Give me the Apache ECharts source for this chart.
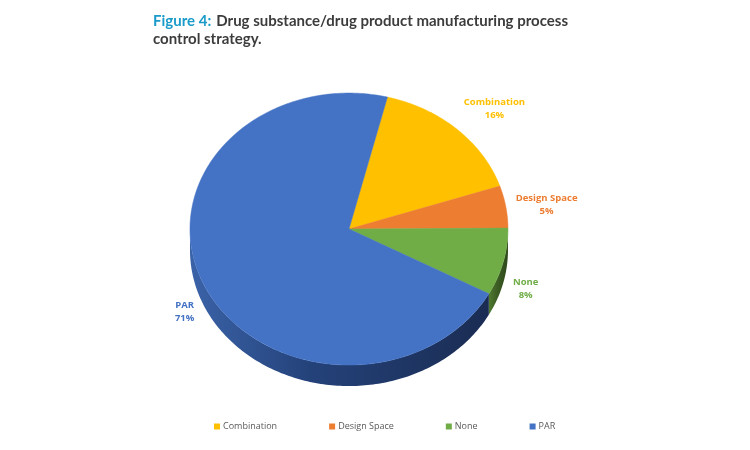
<!DOCTYPE html>
<html>
<head>
<meta charset="utf-8">
<script src="https://cdn.jsdelivr.net/npm/echarts@6/dist/echarts.min.js"></script>
<style>
html,body{margin:0;padding:0;background:#fff;}
#chart{width:750px;height:450px;}
</style>
</head>
<body>
<div id="chart"></div>
<script>
// ---- data ----
const categories = ['Combination', 'Design Space', 'None', 'PAR'];
const values = [16, 5, 8, 71];
// ---- palette ----
const topColors = ['#FFC000', '#ED7D31', '#70AD47', '#4472C4'];
const sideColors = [
  ['#b08600', '#8a6900', '#6e5400'],
  ['#b05a22', '#8e4618', '#6e3612'],
  ['#4f7a30', '#3d5f24', '#2e481b'],
  ['#3b63a8', '#24427a', '#1a2c52']
];

const chart = echarts.init(document.getElementById('chart'));

const LABEL_FONT = 'bold 9.5px "Open Sans"';
const measureCtx = document.createElement('canvas').getContext('2d');
function textWidth(s) { measureCtx.font = LABEL_FONT; return measureCtx.measureText(s).width; }

const START_DEG = 14;     // first slice starts clockwise from 12 o'clock
function geom(api) {
  const w = api.getWidth(), h = api.getHeight();
  return { cx: w * 0.4653, cy: h * 0.509, rx: 159, ry: 136, depth: 21 };
}
function pt(g, deg, dy) {
  const r = deg * Math.PI / 180;
  return [g.cx + g.rx * Math.sin(r), g.cy - g.ry * Math.cos(r) + (dy || 0)];
}

function makeRender(i) {
  return function (params, api) {
    const g = geom(api);
    const total = values.reduce((a, b) => a + b, 0);
    let acc = 0;
    for (let j = 0; j < i; j++) acc += values[j];
    const v = api.value(0);
    const a0 = START_DEG + acc / total * 360;
    const a1 = a0 + v / total * 360;
    const children = [];

    // side wall (only the front half of the rim is visible)
    [0, 360].forEach(function (k) {
      const s = Math.max(a0, 90 + k), e = Math.min(a1, 270 + k);
      if (e - s > 0.01) {
        const pts = [];
        const n = Math.max(2, Math.ceil(e - s));
        for (let t = 0; t <= n; t++) pts.push(pt(g, s + (e - s) * t / n, 0));
        for (let t = n; t >= 0; t--) pts.push(pt(g, s + (e - s) * t / n, g.depth));
        children.push({
          type: 'polygon',
          shape: { points: pts },
          style: {
            fill: new echarts.graphic.LinearGradient(0, 0, 1, 0, [
              { offset: 0, color: sideColors[i][0] },
              { offset: 0.4, color: sideColors[i][1] },
              { offset: 1, color: sideColors[i][2] }
            ])
          },
          z2: 1
        });
      }
    });

    // top face
    const top = [[g.cx, g.cy]];
    const n = Math.max(2, Math.ceil(a1 - a0));
    for (let t = 0; t <= n; t++) top.push(pt(g, a0 + (a1 - a0) * t / n, 0));
    children.push({
      type: 'polygon',
      shape: { points: top },
      style: { fill: topColors[i], stroke: topColors[i], lineWidth: 0.5 },
      z2: 2
    });

    // label (lines centred on each other, box placed just outside the rim)
    const mid = (a0 + a1) / 2;
    const mr = mid * Math.PI / 180;
    const sn = Math.sin(mr), cs = Math.cos(mr);
    const lines = [categories[i], Math.round(v / total * 100) + '%'];
    const wBox = Math.max(textWidth(lines[0]), textWidth(lines[1]));
    const p = pt(g, mid, cs < 0 ? g.depth : 0);
    let lx = p[0] + 10 * sn, ly = p[1] - 10 * cs;
    lx += (sn >= 0 ? 1 : -1) * wBox / 2;
    let va;
    if (Math.abs(cs) < 0.45) { va = 'middle'; if (cs < 0) ly += 3; }
    else va = cs > 0 ? 'bottom' : 'top';
    children.push({
      type: 'text',
      style: {
        x: lx, y: ly,
        text: lines.join('\n'),
        fill: topColors[i],
        font: LABEL_FONT,
        lineHeight: 13,
        align: 'center',
        verticalAlign: va
      },
      z2: 3
    });
    return { type: 'group', children: children };
  };
}

const series = categories.map(function (name, i) {
  return {
    type: 'custom',
    name: name,
    coordinateSystem: 'none',
    itemStyle: { color: topColors[i] },
    data: [[values[i]]],
    renderItem: makeRender(i),
    silent: true
  };
});

chart.setOption({
  animation: false,
  backgroundColor: '#ffffff',
  title: {
    left: 148,
    top: 7,
    text: '{a|Figure 4:} {b|Drug substance/drug product manufacturing process}\n{b|control strategy.}',
    textStyle: {
      rich: {
        a: { color: '#1a9bc9', fontSize: 15, fontWeight: 'bold', fontFamily: 'Lato', lineHeight: 18 },
        b: { color: '#3c3c3c', fontSize: 15, fontWeight: 'bold', fontFamily: 'Lato', lineHeight: 18 }
      }
    }
  },
  legend: {
    data: categories,
    top: 417,
    left: 209,
    icon: 'rect',
    itemWidth: 6,
    itemHeight: 6,
    itemGap: 52,
    textStyle: { fontSize: 9, color: '#595959', fontFamily: 'Open Sans', padding: [0, 0, 0, -2] },
    selectedMode: false
  },
  series: series
});
</script>
</body>
</html>
